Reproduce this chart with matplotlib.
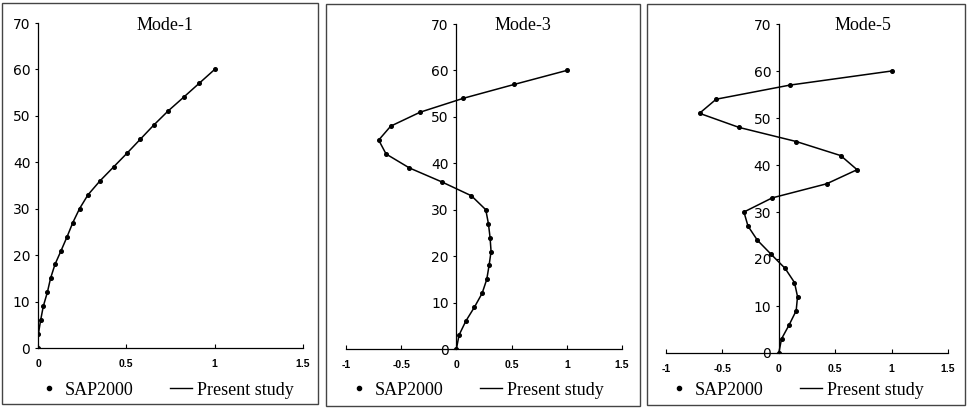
import matplotlib
matplotlib.use('Agg')
import matplotlib.pyplot as plt
from matplotlib.lines import Line2D
from matplotlib.patches import Rectangle

# storey heights (m) and mode shape ordinates
height = [0, 3, 6, 9, 12, 15, 18, 21, 24, 27, 30, 33, 36, 39, 42, 45, 48, 51, 54, 57, 60]

mode1 = [0, 0.002, 0.015, 0.03, 0.053, 0.071, 0.096, 0.131, 0.165, 0.197, 0.235,
         0.283, 0.351, 0.428, 0.505, 0.58, 0.655, 0.735, 0.824, 0.912, 1.0]
mode3 = [0, 0.024, 0.085, 0.163, 0.233, 0.275, 0.296, 0.314, 0.305, 0.29, 0.266,
         0.136, -0.133, -0.426, -0.637, -0.704, -0.595, -0.329, 0.063, 0.526, 1.0]
mode5 = [0, 0.024, 0.092, 0.154, 0.166, 0.139, 0.056, -0.068, -0.19, -0.273, -0.309,
         -0.059, 0.424, 0.694, 0.549, 0.154, -0.353, -0.703, -0.555, 0.098, 1.0]

titles = ['Mode-1', 'Mode-3', 'Mode-5']
modes = [mode1, mode3, mode5]
xlims = [(0, 1.5), (-1, 1.5), (-1, 1.5)]
xticks = [[0, 0.5, 1, 1.5], [-1, -0.5, 0, 0.5, 1, 1.5], [-1, -0.5, 0, 0.5, 1, 1.5]]
xticklabels = [['0', '0.5', '1', '1.5'], ['-1', '-0.5', '0', '0.5', '1', '1.5'],
               ['-1', '-0.5', '0', '0.5', '1', '1.5']]
yticks = [0, 10, 20, 30, 40, 50, 60, 70]

W, H = 967, 411
fig = plt.figure(figsize=(W / 100, H / 100), dpi=100)

# pixel boxes: axes (left, right, top, bottom), frame (left, right, top, bottom)
ax_px = [(38, 303, 23, 348), (346, 622, 24, 349), (666, 948, 24, 353)]
frame_px = [(2, 318, 3, 404), (326, 640, 4, 406), (647, 965, 4, 405)]
title_x = [165, 523, 863]
legend_x = [166, 476, 796]

serif = ['Liberation Serif', 'DejaVu Serif']
sans = ['Liberation Sans', 'DejaVu Sans']

for i in range(3):
    fl, fr, ft, fb = frame_px[i]
    fig.patches.append(Rectangle((fl / W, 1 - fb / H), (fr - fl) / W, (fb - ft) / H,
                                 transform=fig.transFigure, fill=False,
                                 edgecolor='#444444', linewidth=1.0))
    l, r, t, b = ax_px[i]
    ax = fig.add_axes([l / W, 1 - b / H, (r - l) / W, (b - t) / H])
    ax.plot(modes[i], height, color='black', linewidth=1.1)
    ax.plot(modes[i], height, linestyle='none', marker='o', markersize=2.6,
            color='black')
    ax.set_xlim(*xlims[i])
    ax.set_ylim(0, 70)
    ax.set_xticks(xticks[i])
    ax.set_xticklabels(xticklabels[i], family=sans, fontsize=7.5, fontweight='bold')
    ax.set_yticks(yticks)
    ax.set_yticklabels([str(v) for v in yticks], family=sans, fontsize=7.5,
                       fontweight='bold')
    ax.spines['top'].set_visible(False)
    ax.spines['right'].set_visible(False)
    ax.spines['left'].set_position(('data', 0))
    ax.spines['left'].set_linewidth(0.9)
    ax.spines['bottom'].set_linewidth(0.9)
    ax.tick_params(axis='x', direction='in', length=3, width=0.8, pad=8)
    ax.tick_params(axis='y', direction='out', length=2.5, width=0.8, pad=3)
    ax.patch.set_visible(False)

    fig.text(title_x[i] / W, 1 - 25 / H, titles[i], ha='center', va='center',
             family=serif, fontsize=13)

    handles = [Line2D([], [], linestyle='none', marker='o', markersize=3, color='black'),
               Line2D([], [], color='black', linewidth=1.0)]
    fig.legend(handles, ['SAP2000', 'Present study'], ncol=2, frameon=False,
               loc='center', bbox_to_anchor=(legend_x[i] / W, 1 - 390 / H),
               prop={'family': serif, 'size': 13}, handlelength=1.2,
               handletextpad=0.3, columnspacing=2.0, borderpad=0)

fig.savefig('out.png', dpi=100)
